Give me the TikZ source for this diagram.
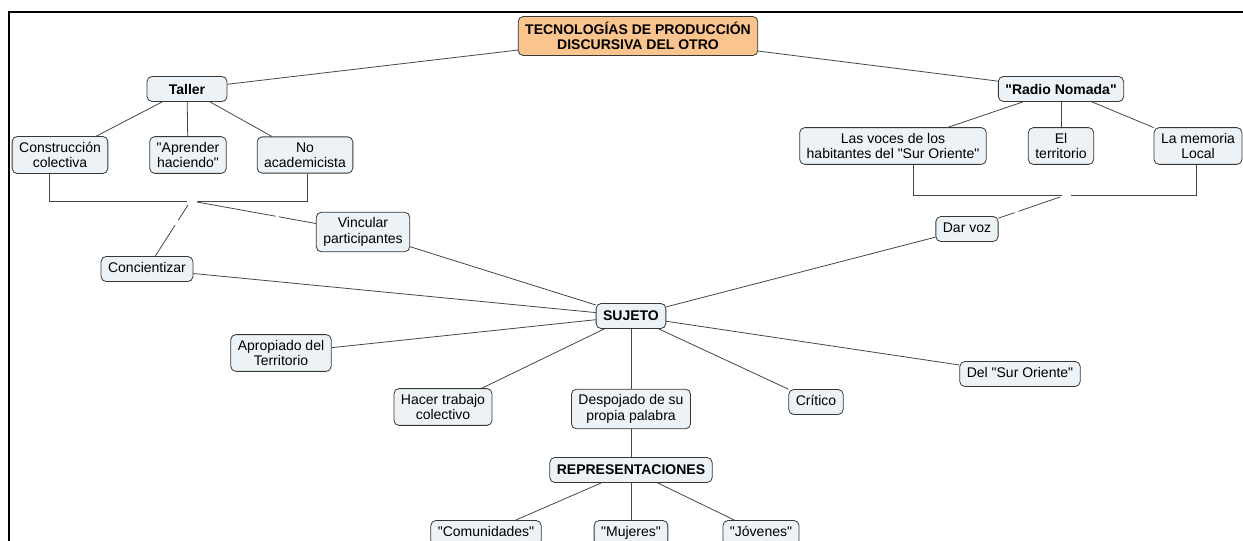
\documentclass[tikz,border=0pt]{standalone}
\usepackage{fontspec}
\setmainfont{Liberation Sans}[Ligatures=TeXOff]
\usetikzlibrary{positioning}
\definecolor{boxfill}{RGB}{236,242,245}
\definecolor{rootfill}{RGB}{250,196,142}
\definecolor{boxline}{RGB}{55,55,55}
\definecolor{linkline}{RGB}{70,70,70}

\begin{document}
\begin{tikzpicture}[x=1pt,y=-1pt,node distance=60pt,on grid,
  concept/.style={draw=boxline,fill=boxfill,line width=0.8pt,rounded corners=5pt,
    align=center,inner xsep=7pt,inner ysep=5.5pt,minimum height=25pt,
    font=\fontsize{14}{15.5}\selectfont},
  leaf/.style={concept,text height=10.5pt,text depth=3pt},
  keyconcept/.style={concept,font=\fontsize{14}{15.5}\selectfont\bfseries},
  rootconcept/.style={keyconcept,fill=rootfill}]
  \useasboundingbox (0,0) rectangle (1243,541);
  \clip (0,0) rectangle (1243,541);
  \draw[line width=2.2pt] (9,541) -- (9,12) -- (1243,12);

  \node[rootconcept]    (top) at (638,36)                      {TECNOLOGÍAS DE PRODUCCIÓN\\DISCURSIVA DEL OTRO};
  \node[keyconcept,minimum width=80pt] (tl) [below left =53pt and 451pt of top] {Taller};
  \node[keyconcept]     (rn) [below right=53pt and 423pt of top] {"Radio Nomada"};
  \node[concept]        (cc) [below left =66pt and 127pt of tl]  {Construcción\\colectiva};
  \node[concept]        (ah) [below right=66pt and 1pt of tl]    {"Aprender\\haciendo"};
  \node[concept]        (na) [below right=66pt and 118pt of tl]  {No\\academicista};
  \node[concept]        (lv) [below left =57pt and 168pt of rn]  {Las voces de los\\habitantes del "Sur Oriente"};
  \node[concept]        (et) [below=57pt of rn]                  {El\\territorio};
  \node[concept]        (lm) [below right=57pt and 137pt of rn]  {La memoria\\Local};
  \node[keyconcept]     (sj) [below left =280pt and 7pt of top]  {SUJETO};
  \node[concept]        (vp) [above left =84pt and 268pt of sj]  {Vincular\\participantes};
  \node[leaf]           (cz) [above left =47pt and 484pt of sj]  {Concientizar};
  \node[leaf]           (dv) [above right=87pt and 336pt of sj]  {Dar voz};
  \node[concept]        (ap) [below left =37pt and 350pt of sj]  {Apropiado del\\Territorio};
  \node[concept]        (ht) [below left =91pt and 188pt of sj]  {Hacer trabajo\\colectivo};
  \node[concept]        (dp) [below=93pt of sj]                  {Despojado de su\\propia palabra};
  \node[leaf]           (cr) [below right=86pt and 185pt of sj]  {Crítico};
  \node[leaf]           (ds) [below right=58pt and 389pt of sj]  {Del "Sur Oriente"};
  \node[keyconcept]     (rp) [below=61pt of dp]                  {REPRESENTACIONES};
  \node[leaf]           (cm) [below left =63pt and 145pt of rp]  {"Comunidades"};
  \node[leaf]           (mj) [below=63pt of rp]                  {"Mujeres"};
  \node[leaf]           (jv) [below right=63pt and 130pt of rp]  {"Jóvenes"};

  \coordinate (tj) at (192,201);
  \coordinate (rj) at (1066,195);

\tikzset{link/.style={draw=linkline,line width=0.8pt}}
\tikzset{brokenlink/.style={link,dash pattern=#1}}
\path (top) edge [link] (tl)
      (top) edge [link] (rn)
      (tl)  edge [link] (cc)
      (tl)  edge [link] (ah)
      (tl)  edge [link] (na)
      (rn)  edge [link] (lv)
      (rn)  edge [link] (et)
      (rn)  edge [link] (lm)
      (cz)  edge [link] (sj)
      (vp)  edge [link] (sj)
      (dv)  edge [link] (sj)
      (sj)  edge [link] (ap)
      (sj)  edge [link] (ht)
      (sj)  edge [link] (dp)
      (sj)  edge [link] (cr)
      (sj)  edge [link] (ds)
      (dp)  edge [link] (rp)
      (rp)  edge [link] (cm)
      (rp)  edge [link] (mj)
      (rp)  edge [link] (jv);
% brackets joining the sub-concepts
\draw[link] ([xshift=-11pt]cc.south) |- ([xshift=-5pt]tj);
\draw[link] ([xshift=2pt]na.south) |- ([xshift=5pt]tj);
\draw[link] ([xshift=20pt]lv.south) |- ([xshift=-4.5pt]rj);
\draw[link] ([xshift=-2pt]lm.south) |- ([xshift=4.5pt]rj);
\draw[brokenlink={on 80pt off 3pt on 200pt}] ([xshift=5pt,yshift=-1pt]tj) -- (vp);
\draw[brokenlink={on 18pt off 6pt on 100pt}] ([xshift=-4pt,yshift=-4pt]tj) -- (cz);
\draw[brokenlink={on 44pt off 4pt on 100pt}] ([xshift=-6pt,yshift=-2pt]rj) -- (dv);
\end{tikzpicture}
\end{document}
